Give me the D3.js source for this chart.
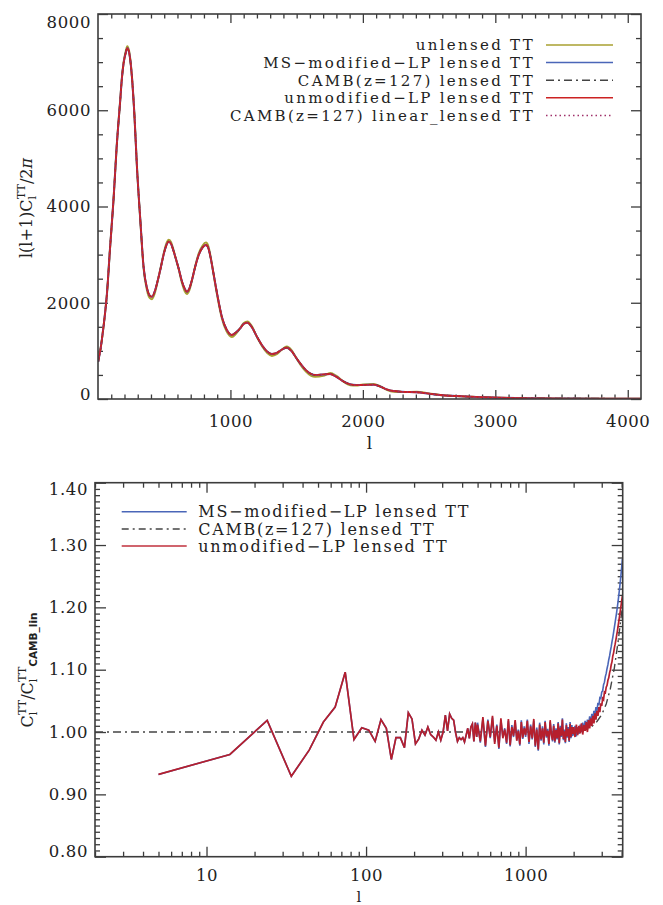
<!DOCTYPE html>
<html><head><meta charset="utf-8">
<script src="https://cdn.jsdelivr.net/npm/d3@7"></script>
<style>
body{margin:0;background:#fff;}
svg text{font-family:"DejaVu Serif",serif;fill:#222;}
</style></head><body>
<svg id="c" width="663" height="905"></svg>
<script>
// ---------------- DATA ----------------
// Top panel: multipole l and l(l+1)C_l/2pi
const specL = [2,10,20,30,50,68,90,117,140,168,180,193,210,221,235,256,275,294,320,344,370,390,407,430,450,470,500,520,533,550,570,583,610,634,655,671,690,710,734,760,790,815,835,853,872,900,935,970,1011,1040,1074,1100,1129,1160,1200,1240,1280,1313,1350,1390,1426,1460,1500,1527,1570,1610,1640,1700,1753,1800,1850,1904,1950,2000,2080,2130,2180,2231,2300,2407,2500,2583,2700,2810,2900,3036,3200,3400,3600,3800,4100];
const unlensedTT = [1000,950,1060,1250,1700,2200,3100,4135,5200,6215,6660,6990,7230,7330,7230,6710,5900,4830,3690,2720,2260,2100,2075,2210,2440,2690,3070,3260,3310,3270,3100,2960,2690,2410,2240,2180,2260,2470,2760,3020,3190,3250,3160,2920,2600,2150,1680,1410,1290,1350,1470,1580,1610,1520,1290,1090,950,895,930,1030,1090,1020,840,720,570,480,460,480,540,480,370,285,280,300,310,265,190,150,145,150,115,83,60,46,36,26,17,12,9,7,5];
const lensedTT = [775,900,1050,1250,1700,2200,3100,4135,5200,6215,6650,6975,7200,7290,7200,6700,5900,4830,3700,2750,2300,2150,2125,2250,2450,2680,3050,3220,3270,3230,3080,2960,2700,2440,2290,2230,2300,2480,2750,2990,3150,3200,3120,2900,2610,2180,1710,1450,1330,1380,1470,1560,1585,1500,1295,1110,980,935,960,1030,1067,1000,840,740,600,520,500,510,520,460,370,305,290,292,297,260,200,166,150,140,110,83,62,48,38,27,18,12,9,7,5];

const topLegend = ["unlensed TT","MS\u2212modified\u2212LP lensed TT","CAMB(z=127) lensed TT","unmodified\u2212LP lensed TT","CAMB(z=127) linear_lensed TT"];
const topXTicks = [1000,2000,3000,4000];
const topYTicks = [0,2000,4000,6000,8000];

// Bottom panel: ratio C_l / C_l(CAMB lin)
const ratioL = [5,14,24,34,44,54,64,74,84,94,104,114,124,134,144,154,164,174,184,194,204,214,224,234,244,254,264,274,284,294,304,314,324,334,344,354,364,374,384,394,404,414,424,434,444,454,464,474,484,494,
 500,520,540,560,580,600,620,640,660,680,700,720,740,760,780,800,820,840,860,880,900,920,940,960,980,
 1000,1025,1050,1075,1100,1125,1150,1175,1200,1225,1250,1275,1300,1325,1350,1375,1400,1425,1450,1475,1500,1525,1550,1575,1600,1625,1650,1675,1700,1725,1750,1775,1800,1825,1850,1875,1900,1925,1950,1975,
 2000,2040,2080,2120,2160,2200,2240,2280,2320,2360,2400,2440,2480,2520,2560,2600,2640,2680,2720,2760,2800,2840,2880,2920,2960,3000,3040,3080,3120,3160,3200,3240,3280,3320,3360,3400,3440,3480,3520,3560,3600,3640,3680,3720,3760,3800,3840,3880,3920,3960,4000,4040];
const ratioLowShared = [0.932,0.964,1.0187,0.929,0.971,1.016,1.040,1.096,0.988,1.007,1.003,0.985,1.020,1.006,0.956,0.991,0.991,0.975,1.031,1.021,0.981,0.989,1.003,0.995,1.008,0.996,0.992,0.987,1.000,0.987,1.000,1.027,1.002,1.029,1.022,1.019,0.999,0.985,0.991,0.988,0.991,0.984,0.995,1.006,0.990,1.008,1.013,0.985,1.015,0.992];
const unmodHigh = [1.012,0.985,1.024,0.978,1.018,0.992,1.026,0.981,1.010,0.975,1.022,0.990,1.004,0.983,1.021,0.979,1.008,0.994,1.019,0.986,1.002,0.980,1.016,0.991,1.006,
 0.995,1.018,0.984,1.009,0.990,1.021,0.978,1.004,0.972,1.012,0.988,1.006,0.983,1.016,0.993,1.002,0.981,1.019,0.996,0.987,1.010,0.985,1.003,0.990,1.014,0.982,1.007,0.994,1.020,0.989,1.001,0.984,1.011,0.993,1.005,0.986,1.013,0.992,1.008,0.997,
 1.008,0.992,1.012,0.995,1.010,0.998,1.014,0.996,1.011,1.002,1.016,1.000,1.019,1.006,1.022,1.010,1.026,1.014,1.030,1.020,1.034,1.026,1.040,1.032,1.046,1.042,1.054,1.052,1.064,1.063,1.072,1.075,1.083,1.087,1.095,1.100,1.108,1.113,1.122,1.127,1.135,1.141,1.148,1.155,1.162,1.170,1.178,1.186,1.194,1.202,1.210,1.218];
const msModHigh = [1.015,0.983,1.021,0.976,1.020,0.990,1.023,0.984,1.012,0.973,1.019,0.992,1.006,0.981,1.018,0.977,1.011,0.992,1.017,0.988,1.004,0.978,1.019,0.989,1.009,
 0.992,1.020,0.981,1.012,0.988,1.018,0.976,1.007,0.970,1.015,0.986,1.009,0.980,1.018,0.991,1.005,0.978,1.016,0.999,0.985,1.013,0.983,1.006,0.988,1.016,0.980,1.010,0.992,1.022,0.987,1.004,0.982,1.014,0.991,1.008,0.984,1.016,0.990,1.011,0.995,
 0.996,1.010,0.993,1.008,0.997,1.012,1.000,1.015,1.003,1.018,1.006,1.020,1.010,1.025,1.014,1.029,1.020,1.034,1.027,1.040,1.034,1.047,1.043,1.055,1.054,1.064,1.066,1.076,1.080,1.089,1.094,1.102,1.108,1.116,1.122,1.130,1.137,1.145,1.152,1.160,1.168,1.176,1.184,1.192,1.201,1.210,1.220,1.230,1.241,1.252,1.264,1.278];
const cambL = [2,500,1000,1500,2000,2200,2400,2600,2800,3000,3200,3400,3600,3800,4060];
const cambRatio = [1.000,1.000,1.000,1.000,1.000,1.001,1.004,1.009,1.017,1.028,1.045,1.070,1.103,1.145,1.205];

const bottomLegend = ["MS\u2212modified\u2212LP lensed TT","CAMB(z=127) lensed TT","unmodified\u2212LP lensed TT"];
const botXTicks = [10,100,1000];
const botYTicks = [0.8,0.9,1.0,1.1,1.2,1.3,1.4];

// ---------------- DRAW ----------------
const svg = d3.select("#c");
const AX = "#3c3c3c";
const C = {olive:"#a8a030", blue:"#4a66b8", dash:"#444", red:"#cc2222", dot:"#a0306a", red2:"#b61f2d"};

function style(g, fs){
  g.select(".domain").remove();
  g.selectAll("line").attr("stroke",AX).attr("stroke-width",1.3);
  g.selectAll("text").attr("font-family","DejaVu Serif").attr("font-size",fs||16.5).attr("fill","#222").attr("letter-spacing",0.6);
}

// ===== TOP PANEL =====
const T = {l:98, r:641, t:14, b:399};
const xT = d3.scaleLinear().domain([0,4100]).range([T.l,T.r]);
const yT = d3.scaleLinear().domain([0,8000]).range([T.b,T.t]);
const xTminor = d3.range(100,4100,100).filter(v=>v%1000);
const yTminor = d3.range(500,8000,500).filter(v=>v%2000);

svg.append("defs").append("clipPath").attr("id","clipT").append("rect").attr("x",T.l).attr("y",T.t).attr("width",T.r-T.l).attr("height",T.b-T.t);
svg.select("defs").append("clipPath").attr("id","clipB").append("rect").attr("x",95).attr("y",482.7).attr("width",527.7).attr("height",374);

svg.append("g").attr("transform",`translate(0,${T.b})`).call(d3.axisBottom(xT).tickValues(topXTicks).tickSize(-9).tickPadding(16).tickFormat(d3.format("d"))).call(style);
svg.append("g").attr("transform",`translate(0,${T.b})`).call(d3.axisBottom(xT).tickValues(xTminor).tickSize(-4.5).tickFormat("")).call(style);
svg.append("g").attr("transform",`translate(0,${T.t})`).call(d3.axisTop(xT).tickValues(topXTicks).tickSize(-9).tickFormat("")).call(style);
svg.append("g").attr("transform",`translate(0,${T.t})`).call(d3.axisTop(xT).tickValues(xTminor).tickSize(-4.5).tickFormat("")).call(style);
const yAxT = svg.append("g").attr("transform",`translate(${T.l},0)`).call(d3.axisLeft(yT).tickValues(topYTicks).tickSize(-10).tickPadding(7).tickFormat(d3.format("d"))).call(style);
yAxT.selectAll("text").filter(d=>d===8000).attr("dy","0.8em");
yAxT.selectAll("text").filter(d=>d===0).attr("dy","0.02em");
svg.append("g").attr("transform",`translate(${T.l},0)`).call(d3.axisLeft(yT).tickValues(yTminor).tickSize(-5).tickFormat("")).call(style);
svg.append("g").attr("transform",`translate(${T.r},0)`).call(d3.axisRight(yT).tickValues(topYTicks).tickSize(-10).tickFormat("")).call(style);
svg.append("g").attr("transform",`translate(${T.r},0)`).call(d3.axisRight(yT).tickValues(yTminor).tickSize(-5).tickFormat("")).call(style);

const lineT = d3.line().x(d=>xT(d[0])).y(d=>yT(d[1])).curve(d3.curveMonotoneX);
const topSeries = [
  {vals:unlensedTT, color:C.olive, dash:null, w:2},
  {vals:lensedTT, color:C.blue, dash:null, w:2},
  {vals:lensedTT, color:C.dash, dash:"8,4,2,4", w:1.6},
  {vals:lensedTT, color:C.red, dash:null, w:1.8},
  {vals:lensedTT, color:C.dot, dash:"1.5,3", w:1.4}
];
const gT = svg.append("g").attr("clip-path","url(#clipT)");
topSeries.forEach(s=>{
  gT.append("path").datum(specL.map((l,i)=>[l,s.vals[i]]))
    .attr("d",lineT).attr("fill","none").attr("stroke",s.color).attr("stroke-width",s.w)
    .attr("stroke-dasharray",s.dash);
});
svg.append("rect").attr("x",T.l).attr("y",T.t).attr("width",T.r-T.l).attr("height",T.b-T.t).attr("fill","none").attr("stroke",AX).attr("stroke-width",1.6);

// legend top
const legT = svg.append("g");
topLegend.forEach((lab,i)=>{
  const y = 45 + i*17.6;
  const s = topSeries[i];
  legT.append("text").attr("x",535).attr("y",y).attr("dy","0.36em").attr("text-anchor","end")
    .attr("font-size",15).attr("letter-spacing",2.3).text(lab);
  legT.append("line").attr("x1",546).attr("x2",613).attr("y1",y).attr("y2",y)
    .attr("stroke",s.color).attr("stroke-width",1.5).attr("stroke-dasharray",s.dash);
});

// axis titles top
svg.append("text").attr("x",(T.l+T.r)/2).attr("y",449).attr("text-anchor","middle").attr("font-size",17).text("l");
const ylT = svg.append("text").attr("transform","translate(32,208) rotate(-90)").attr("text-anchor","middle").attr("font-size",16);
ylT.append("tspan").text("l(l+1)C");
ylT.append("tspan").attr("font-size",11).attr("dy",4).text("l");
ylT.append("tspan").attr("font-size",11).attr("dx",-3).attr("dy",-11).text("TT");
ylT.append("tspan").attr("dy",7).text("/2");
ylT.append("tspan").attr("font-style","italic").text("\u03c0");

// ===== BOTTOM PANEL =====
const B = {l:95, r:622.7, t:482.7, b:856.7};
const xB = d3.scaleLog().domain([2,4060]).range([B.l,B.r]);
const yB = d3.scaleLinear().domain([0.8,1.4]).range([B.b,B.t]);
const xBminor = [2,3,4,5,6,7,8,9,20,30,40,50,60,70,80,90,200,300,400,500,600,700,800,900,2000,3000,4000];
const yBminor = d3.range(81,140,1).map(v=>v/100).filter(v=>Math.round(v*100)%10);

svg.append("g").attr("transform",`translate(0,${B.b})`).call(d3.axisBottom(xB).tickValues(botXTicks).tickSize(-10).tickPadding(13).tickFormat(d3.format("d"))).call(style);
svg.append("g").attr("transform",`translate(0,${B.b})`).call(d3.axisBottom(xB).tickValues(xBminor).tickSize(-5).tickFormat("")).call(style);
svg.append("g").attr("transform",`translate(0,${B.t})`).call(d3.axisTop(xB).tickValues(botXTicks).tickSize(-10).tickFormat("")).call(style);
svg.append("g").attr("transform",`translate(0,${B.t})`).call(d3.axisTop(xB).tickValues(xBminor).tickSize(-5).tickFormat("")).call(style);
const yAxB = svg.append("g").attr("transform",`translate(${B.l},0)`).call(d3.axisLeft(yB).tickValues(botYTicks).tickSize(-11).tickPadding(7).tickFormat(d3.format(".2f"))).call(style);
yAxB.selectAll("text").filter(d=>Math.abs(d-1.4)<1e-6).attr("dy","0.73em");
yAxB.selectAll("text").filter(d=>Math.abs(d-0.8)<1e-6).attr("dy","-0.04em");
svg.append("g").attr("transform",`translate(${B.l},0)`).call(d3.axisLeft(yB).tickValues(yBminor).tickSize(-5).tickFormat("")).call(style);
svg.append("g").attr("transform",`translate(${B.r},0)`).call(d3.axisRight(yB).tickValues(botYTicks).tickSize(-11).tickFormat("")).call(style);
svg.append("g").attr("transform",`translate(${B.r},0)`).call(d3.axisRight(yB).tickValues(yBminor).tickSize(-5).tickFormat("")).call(style);

const lineB = d3.line().x(d=>xB(d[0])).y(d=>yB(d[1]));
const unmodRatio = ratioLowShared.concat(unmodHigh);
const msRatio = ratioLowShared.concat(msModHigh);
const gB = svg.append("g").attr("clip-path","url(#clipB)");
gB.append("path").datum(cambL.map((l,i)=>[l,cambRatio[i]])).attr("d",lineB).attr("fill","none")
  .attr("stroke",C.dash).attr("stroke-width",1.4).attr("stroke-dasharray","8,4,2,4");
gB.append("path").datum(ratioL.map((l,i)=>[l,msRatio[i]])).attr("d",lineB).attr("fill","none")
  .attr("stroke",C.blue).attr("stroke-width",1.6);
gB.append("path").datum(ratioL.map((l,i)=>[l,unmodRatio[i]])).attr("d",lineB).attr("fill","none")
  .attr("stroke",C.red2).attr("stroke-width",1.7);
svg.append("rect").attr("x",B.l).attr("y",B.t).attr("width",B.r-B.l).attr("height",B.b-B.t).attr("fill","none").attr("stroke",AX).attr("stroke-width",1.6);

// legend bottom
const botStyles = [{color:C.blue,dash:null},{color:C.dash,dash:"7,4,2,4"},{color:"#c0303c",dash:null}];
bottomLegend.forEach((lab,i)=>{
  const y = 511.7 + i*17.2;
  svg.append("line").attr("x1",121.7).attr("x2",186.7).attr("y1",y).attr("y2",y)
    .attr("stroke",botStyles[i].color).attr("stroke-width",1.5).attr("stroke-dasharray",botStyles[i].dash);
  svg.append("text").attr("x",198.3).attr("y",y).attr("dy","0.36em").attr("font-size",16).attr("letter-spacing",1.7).text(lab);
});

// axis titles bottom
svg.append("text").attr("x",(B.l+B.r)/2).attr("y",902).attr("text-anchor","middle").attr("font-size",15).text("l");
const ylB = svg.append("text").attr("transform","translate(33,670) rotate(-90)").attr("text-anchor","middle").attr("font-size",16);
ylB.append("tspan").text("C");
ylB.append("tspan").attr("font-size",11).attr("dy",4).text("l");
ylB.append("tspan").attr("font-size",11).attr("dx",-3).attr("dy",-11).text("TT");
ylB.append("tspan").attr("dy",7).text("/C");
ylB.append("tspan").attr("font-size",11).attr("dy",4).text("l");
ylB.append("tspan").attr("font-size",11).attr("dx",-3).attr("dy",-11).text("TT");
ylB.append("tspan").attr("font-size",10.5).attr("font-family","DejaVu Sans").attr("font-weight","bold").attr("dy",11).text("CAMB_lin");
</script></body></html>
